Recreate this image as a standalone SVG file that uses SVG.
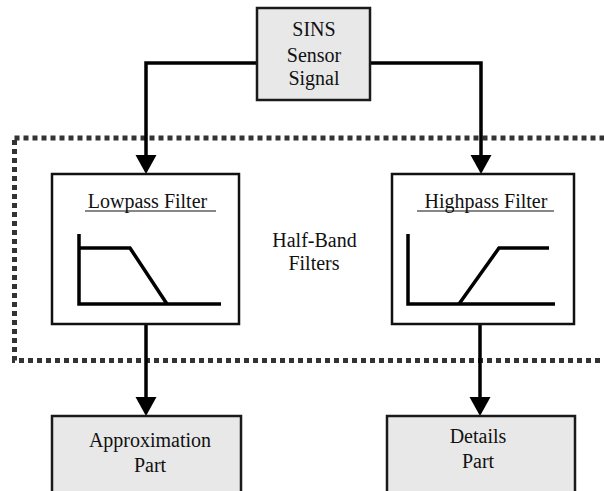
<svg xmlns="http://www.w3.org/2000/svg" width="604" height="491" viewBox="0 0 604 491">
<style>
text{font-family:'Liberation Serif','Times New Roman','DejaVu Serif',serif;font-size:20px;fill:#111;text-anchor:middle}
.gbox{fill:#e8e8e8;stroke:#1a1a1a;stroke-width:2.5}
.wbox{fill:#fff;stroke:#111;stroke-width:2.5}
.conn{fill:none;stroke:#000;stroke-width:3.5}
.graph{fill:none;stroke:#000;stroke-width:3.5;stroke-linejoin:miter}
.ul{stroke:#111;stroke-width:1.2}
</style>
<rect id="halfband-region" x="14.5" y="138" width="600" height="222.5" fill="none" stroke="#333" stroke-width="5" stroke-dasharray="5 4"/>
<g id="connectors">
<path class="conn" d="M257,63 H146 V156"/>
<polygon points="135.5,155 156.5,155 146,174" fill="#000"/>
<path class="conn" d="M370,63 H481 V156"/>
<polygon points="470.5,155 491.5,155 481,174" fill="#000"/>
<path class="conn" d="M146,324 V398"/>
<polygon points="135.5,397 156.5,397 146,416" fill="#000"/>
<path class="conn" d="M480,324 V398"/>
<polygon points="469.5,397 490.5,397 480,416" fill="#000"/>
</g>
<g id="sins">
<rect class="gbox" x="257" y="8" width="113" height="92"/>
<text x="314" y="36" font-family="Liberation Serif">SINS</text>
<text x="314" y="62" font-family="Liberation Serif">Sensor</text>
<text x="314" y="85" font-family="Liberation Serif">Signal</text>
</g>
<g id="lowpass">
<rect class="wbox" x="52" y="174" width="187" height="150"/>
<text x="147.5" y="208">Lowpass Filter</text>
<line class="ul" x1="85" y1="211" x2="216" y2="211"/>
<path class="graph" d="M79,234 V304 H221"/>
<path class="graph" d="M79,248 H130 L167,304"/>
</g>
<g id="highpass">
<rect class="wbox" x="392" y="174" width="182" height="150"/>
<text x="486" y="208">Highpass Filter</text>
<line class="ul" x1="417" y1="211" x2="554" y2="211"/>
<path class="graph" d="M408,234 V304 H555"/>
<path class="graph" d="M459,304 L499,248 H549"/>
</g>
<g id="halfband-label">
<text x="314.5" y="247">Half-Band</text>
<text x="314" y="270">Filters</text>
</g>
<g id="approximation">
<rect class="gbox" x="52" y="416" width="189" height="80"/>
<text x="150" y="447">Approximation</text>
<text x="150" y="472">Part</text>
</g>
<g id="details">
<rect class="gbox" x="387" y="416" width="188" height="80"/>
<text x="478" y="443">Details</text>
<text x="478" y="468">Part</text>
</g>
</svg>
